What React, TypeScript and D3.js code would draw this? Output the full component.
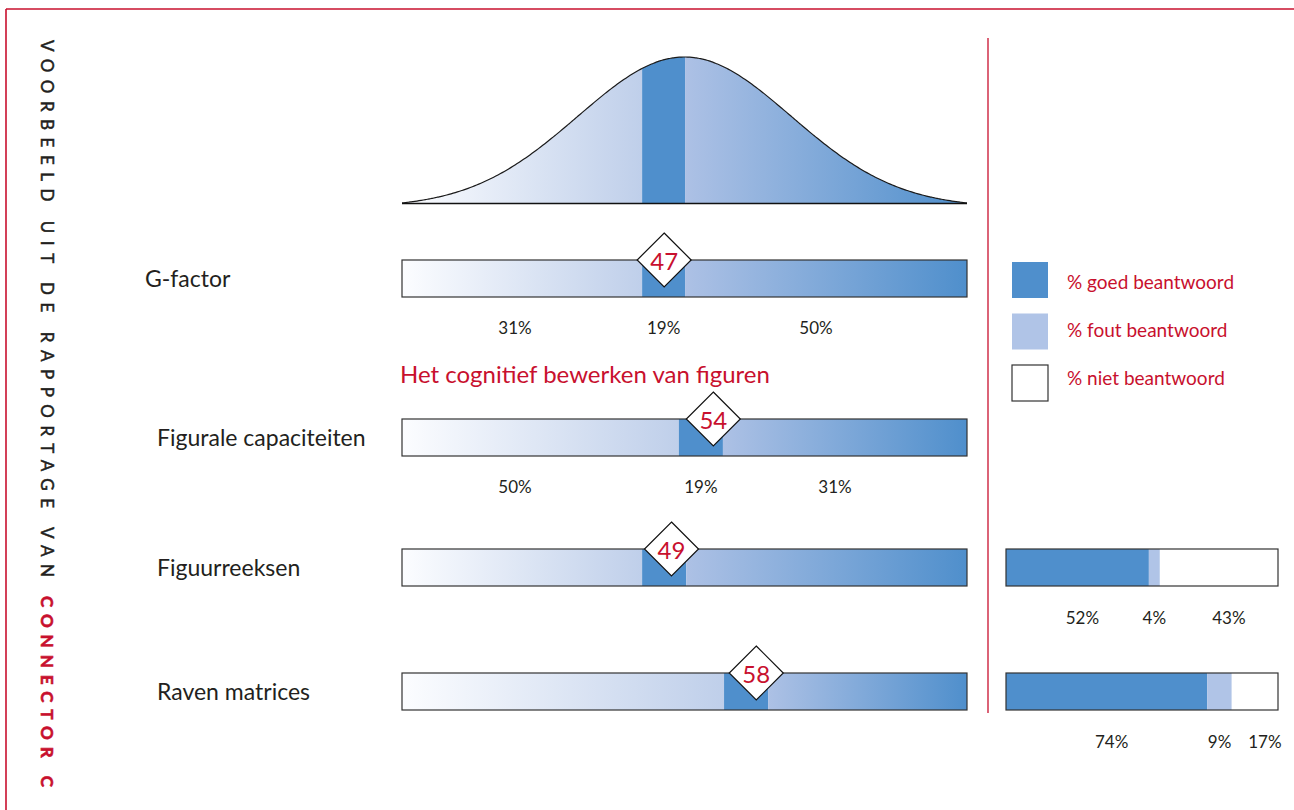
import { useEffect } from 'react';
import * as d3 from 'd3';

// chart data
const rowLabels = ['G-factor', 'Figurale capaciteiten', 'Figuurreeksen', 'Raven matrices'];
const scores = [47, 54, 49, 58];
// band (percentile range) and marker position, in % of the bar scale
const bandStarts = [42.5, 49.0, 42.5, 57.0];
const bandEnds = [50.1, 56.8, 50.3, 64.8];
const markerPos = [46.4, 55.1, 47.7, 62.7];
const distLabels: (number[] | null)[] = [[31, 19, 50], [50, 19, 31], null, null];

const answerRows = [2, 3]; // rows with an answer bar on the right
const goed = [52, 74];
const fout = [4, 9];
const niet = [43, 17];

const legendLabels = ['% goed beantwoord', '% fout beantwoord', '% niet beantwoord'];
const sectionTitle = 'Het cognitief bewerken van figuren';
const sideTextBlack = 'VOORBEELD UIT DE RAPPORTAGE VAN';
const sideTextRed = 'CONNECTOR C';

// layout
const W = 1294;
const H = 810;
const RED = '#c8102e';
const DARK = '#231f20';
const BLUE = '#4f8fcc';
const LIGHT = '#b0c4e7';
const FONT = 'Lato, "Open Sans", sans-serif';
const rowTops = [260, 419, 549, 673];
const rowLabelX = [145, 157, 157, 157];
const barH = 37;
const half = 27;
const zMax = 2.65;

export default function App() {
  useEffect(() => {
    document.body.style.margin = '0';
  }, []);

  const x = d3.scaleLinear().domain([0, 100]).range([402, 967]);
  const xr = d3.scaleLinear().domain([0, 100]).range([1006, 1278]);

  // bell curve (standard normal density)
  const pdf = (z: number) => Math.exp(-z * z / 2) / Math.sqrt(2 * Math.PI);
  const bx = d3.scaleLinear().domain([-zMax, zMax]).range([402, 967]);
  const by = d3.scaleLinear().domain([pdf(zMax), pdf(0)]).range([203, 57]).clamp(true);
  const zs = d3.range(-zMax, zMax + 0.0001, 0.02);
  const area = d3.area<number>().x((z) => bx(z)).y0(203).y1((z) => by(pdf(z))).curve(d3.curveBasis);
  const line = d3.line<number>().x((z) => bx(z)).y((z) => by(pdf(z))).curve(d3.curveBasis);

  const segs = (i: number, top: number, h: number, clip?: string) => (
    <g clipPath={clip}>
      <rect x={x(0)} y={top} width={x(bandStarts[i]) - x(0)} height={h} fill="url(#gLeft)" />
      <rect x={x(bandStarts[i])} y={top} width={x(bandEnds[i]) - x(bandStarts[i])} height={h} fill={BLUE} />
      <rect x={x(bandEnds[i])} y={top} width={x(100) - x(bandEnds[i])} height={h} fill="url(#gRight)" />
    </g>
  );

  return (
    <div style={{ position: 'absolute', left: 0, top: 0 }}>
      <svg width={W} height={H} viewBox={`0 0 ${W} ${H}`} fontFamily={FONT}>
        <defs>
          <linearGradient id="gLeft" x1="0" x2="1" y1="0" y2="0">
            <stop offset="0" stopColor="#fcfdff" />
            <stop offset="1" stopColor="#bfcfea" />
          </linearGradient>
          <linearGradient id="gRight" x1="0" x2="1" y1="0" y2="0">
            <stop offset="0" stopColor="#adc1e5" />
            <stop offset="1" stopColor={BLUE} />
          </linearGradient>
          <clipPath id="bellClip">
            <path d={area(zs) ?? ''} />
          </clipPath>
        </defs>

        {/* frame */}
        <line x1={6} x2={W} y1={9} y2={9} stroke={RED} strokeWidth={1.6} />
        <line x1={6} x2={6} y1={9} y2={H} stroke={RED} strokeWidth={1.6} />
        <line x1={988} x2={988} y1={38} y2={713} stroke={RED} strokeWidth={1.3} />

        {/* side text */}
        <text transform="translate(41,40) rotate(90)" fontSize={17} fill={DARK}
          stroke={DARK} strokeWidth={0.5} textLength={537} lengthAdjust="spacing">{sideTextBlack}</text>
        <text transform="translate(41,596) rotate(90)" fontSize={17} fontWeight="bold" fill={RED}
          stroke={RED} strokeWidth={0.6} textLength={191} lengthAdjust="spacing">{sideTextRed}</text>

        {/* bell curve */}
        {segs(0, 50, 160, 'url(#bellClip)')}
        <path d={line(zs) ?? ''} fill="none" stroke="#1a1a1a" strokeWidth={1.2} />
        <line x1={402} x2={967} y1={203.5} y2={203.5} stroke="#111" strokeWidth={1.5} />

        {/* section title */}
        <text x={400} y={383} fontSize={24} fill={RED}>{sectionTitle}</text>

        {rowLabels.map((lab, i) => {
          const top = rowTops[i];
          const mx = x(markerPos[i]);
          const d = distLabels[i];
          return (
            <g key={lab}>
              <text x={rowLabelX[i]} y={top + barH / 2 + 8} fontSize={23} fill={DARK}>{lab}</text>
              {segs(i, top, barH)}
              <rect x={x(0)} y={top} width={x(100) - x(0)} height={barH} fill="none" stroke="#333" strokeWidth={1.2} />
              <path d={`M${mx},${top - half}L${mx + half},${top}L${mx},${top + half}L${mx - half},${top}Z`}
                fill="#fff" stroke="#111" strokeWidth={1.2} />
              <text x={mx} y={top + 10} textAnchor="middle" fontSize={24} fill={RED}>{scores[i]}</text>
              {d && (
                <g fontSize={17} fill={DARK} textAnchor="middle">
                  <text x={x(20)} y={top + barH + 37}>{d[0]}%</text>
                  <text x={x((bandStarts[i] + bandEnds[i]) / 2)} y={top + barH + 37}>{d[1]}%</text>
                  <text x={x((bandEnds[i] + 100) / 2) - 10} y={top + barH + 37}>{d[2]}%</text>
                </g>
              )}
            </g>
          );
        })}

        {/* legend */}
        {legendLabels.map((lab, i) => {
          const top = 262 + i * 51.5;
          const fill = [BLUE, LIGHT, '#fff'][i];
          return (
            <g key={lab}>
              <rect x={1012} y={top} width={36} height={36} fill={fill}
                stroke={i === 2 ? '#333' : 'none'} strokeWidth={1.2} />
              <text x={1067} y={289 + i * 48} fontSize={19} fill={RED}>{lab}</text>
            </g>
          );
        })}

        {/* answer bars */}
        {answerRows.map((ri, j) => {
          const top = rowTops[ri];
          const total = goed[j] + fout[j] + niet[j];
          const s = xr.copy().domain([0, total]);
          const a = goed[j];
          const b = goed[j] + fout[j];
          const ly = top + barH + 38;
          return (
            <g key={ri}>
              <rect x={s(0)} y={top} width={s(a) - s(0)} height={barH} fill={BLUE} />
              <rect x={s(a)} y={top} width={s(b) - s(a)} height={barH} fill={LIGHT} />
              <rect x={s(b)} y={top} width={s(total) - s(b)} height={barH} fill="#fff" />
              <rect x={s(0)} y={top} width={s(total) - s(0)} height={barH} fill="none" stroke="#333" strokeWidth={1.2} />
              <g fontSize={17} fill={DARK} textAnchor="middle">
                <text x={s(a / 2) + 5} y={ly}>{goed[j]}%</text>
                <text x={s((a + b) / 2)} y={ly}>{fout[j]}%</text>
                <text x={s((b + total) / 2) + 10} y={ly}>{niet[j]}%</text>
              </g>
            </g>
          );
        })}
      </svg>
    </div>
  );
}
